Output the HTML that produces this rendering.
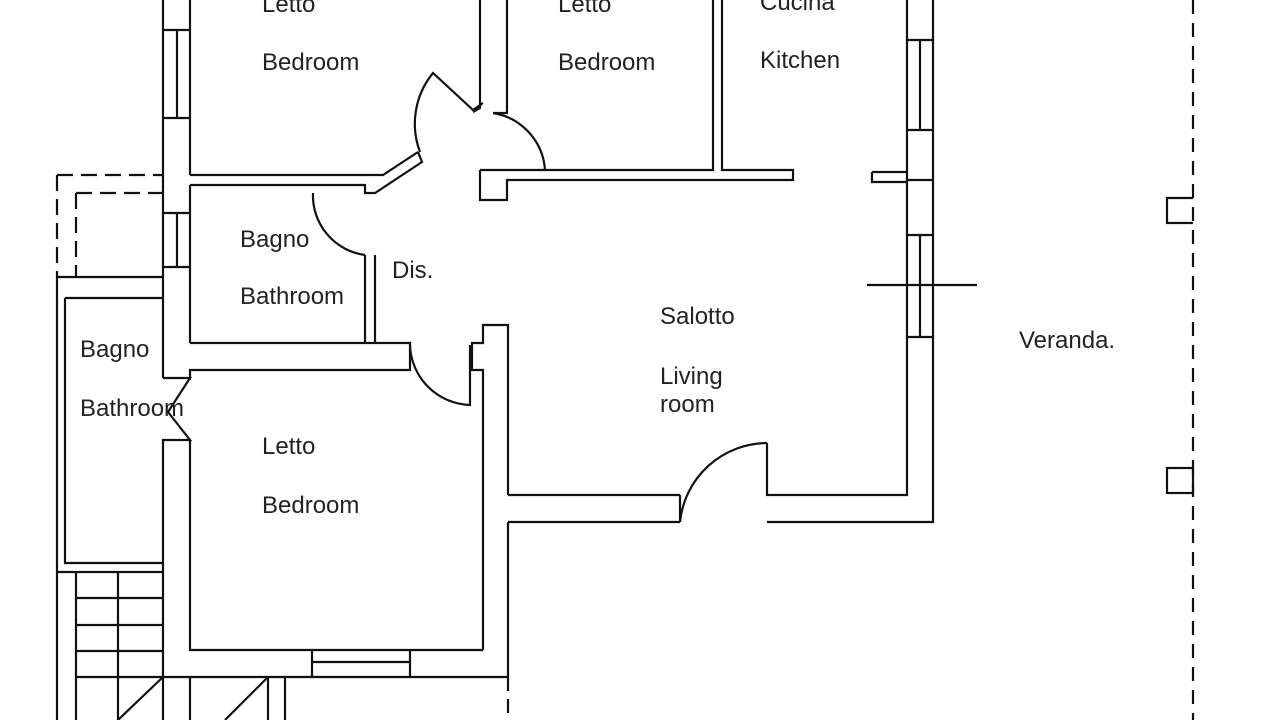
<!DOCTYPE html>
<html><head><meta charset="utf-8"><style>
html,body{margin:0;padding:0;background:#fff;}
svg{display:block;}
text{font-family:"Liberation Sans",sans-serif;font-size:24px;fill:#222;}
</style></head><body>
<svg width="1280" height="720" viewBox="0 0 1280 720" xmlns="http://www.w3.org/2000/svg">
<g fill="none" stroke="#111" stroke-width="2.2">
<line x1="163" y1="0" x2="163" y2="378"/>
<line x1="190" y1="0" x2="190" y2="175"/>
<path d="M163 30H190M163 118H190M177 30V118"/>
<path d="M163 213H190M163 267H190M177 213V267"/>
<path d="M190 175H383L418 152"/>
<path d="M190 185H365V193H375L422 162L418 152"/>
<path d="M420 152A80 80 0 0 1 433 73L473 110L483 103"/>
<path d="M480 0V108L473 112M507 0V113H493"/>
<path d="M493 113A62 62 0 0 1 545 170"/>
<path d="M480 170H713V0M722 0V170H793V180H507V200H480V170"/>
<path d="M872 172H907M872 172V182H907"/>
<path d="M907 0V495H767V443M933 0V522H767"/>
<path d="M907 40H933M907 130H933M920 40V130"/>
<path d="M907 235H933M907 337H933M920 235V337"/>
<path d="M907 180H933"/>
<line x1="867" y1="285" x2="977" y2="285"/>
<path d="M767 443A88 88 0 0 0 680 522"/>
<path d="M680 495V522M508 495H680M508 522H680"/>
<path d="M508 495V325H483V343H472V370H483V650"/>
<path d="M508 522V677"/>
<path d="M508 677V720" stroke-dasharray="14 8"/>
<path d="M365 255V343M375 255V343"/>
<path d="M313 193A60 60 0 0 0 365 255"/>
<path d="M190 343H410V370H190V380"/>
<path d="M410 345A62 62 0 0 0 470 405V345"/>
<line x1="190" y1="185" x2="190" y2="343"/>
<path d="M57 175H163M76 193H163M57 175V277M76 193V277" stroke-dasharray="16 8"/>
<path d="M57 277H163M65 298H163"/>
<path d="M57 277V572M65 298V563H163M57 572H163"/>
<path d="M163 378H190L168 412L190 440H163V572"/>
<path d="M190 440V650H483"/>
<path d="M76 677H508"/>
<path d="M312 650V677M410 650V677M312 662H410"/>
<path d="M57 572V720M76 572V720M118 572V720M163 572V720"/>
<path d="M76 598H163M76 625H163M76 651H163"/>
<path d="M163 677L118 720M268 677L225 720"/>
<path d="M190 677V720M268 677V720M285 677V720"/>
<line x1="1193" y1="0" x2="1193" y2="720" stroke-dasharray="14 9"/>
<path d="M1193 198H1167V223H1193"/>
<rect x="1167" y="468" width="26" height="25"/>
</g>
<g>
<text x="262" y="12">Letto</text>
<text x="262" y="70">Bedroom</text>
<text x="558" y="12">Letto</text>
<text x="558" y="70">Bedroom</text>
<text x="760" y="10">Cucina</text>
<text x="760" y="68">Kitchen</text>
<text x="240" y="247">Bagno</text>
<text x="240" y="304">Bathroom</text>
<text x="392" y="278">Dis.</text>
<text x="660" y="324">Salotto</text>
<text x="660" y="384">Living</text>
<text x="660" y="412">room</text>
<text x="1019" y="348">Veranda.</text>
<text x="80" y="357">Bagno</text>
<text x="80" y="416">Bathroom</text>
<text x="262" y="454">Letto</text>
<text x="262" y="513">Bedroom</text>
</g>
</svg>
</body></html>
